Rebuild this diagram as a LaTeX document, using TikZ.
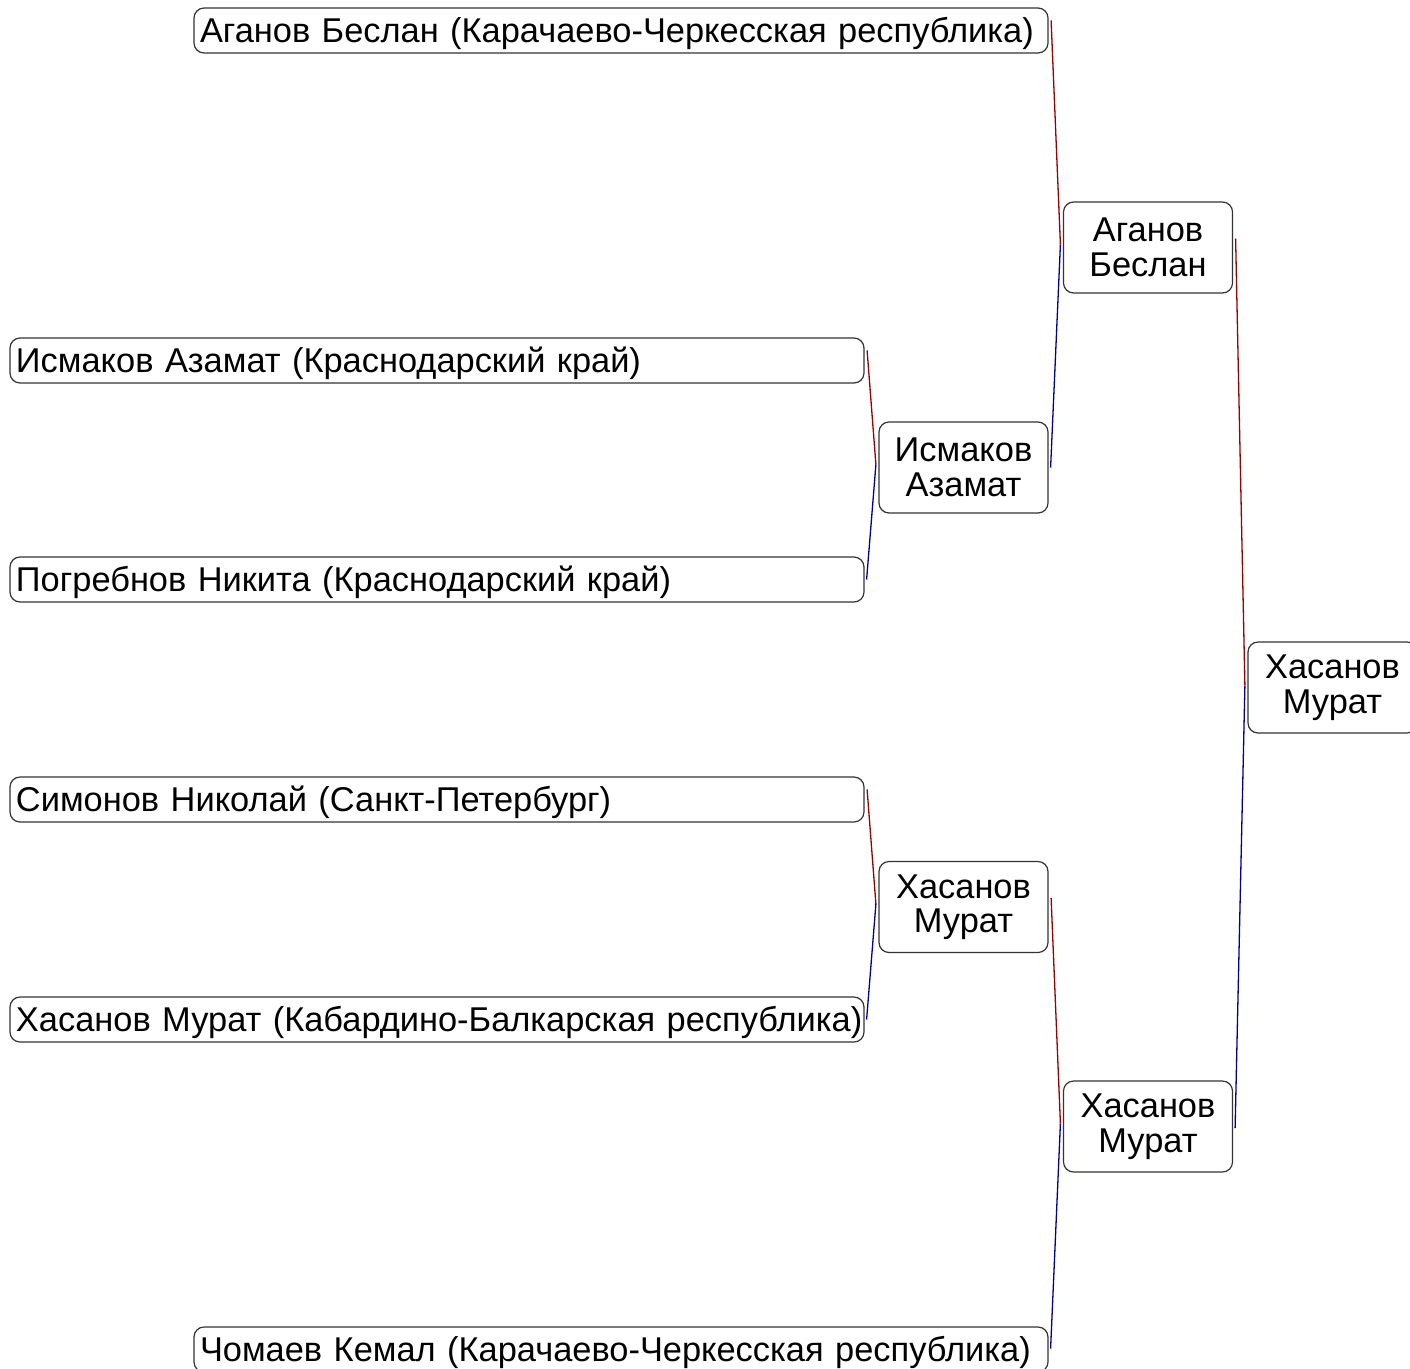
\documentclass[tikz,border=0pt]{standalone}
\usepackage{fontspec}
\setmainfont{Liberation Sans}
\usetikzlibrary{calc}
\definecolor{winred}{RGB}{153,0,0}
\definecolor{losblue}{RGB}{0,0,153}
\begin{document}
\begin{tikzpicture}[x=1pt,y=-1pt,
  box/.style={draw=black!80, line width=1.2pt, rounded corners=10pt, fill=white,
    font=\fontsize{34.4pt}{34.5pt}\selectfont, inner sep=0pt},
  entrant/.style={box, minimum width=854pt, minimum height=45pt, text width=842pt,
    text height=30pt, text depth=7pt, align=left},
  fighter/.style={box, minimum width=169pt, minimum height=91pt, align=center},
  win/.style={draw=winred, line width=1.3pt},
  lose/.style={draw=losblue, line width=1.3pt}]
\useasboundingbox (0,0) rectangle (1410,1368);
\clip (0,0) rectangle (1410,1368);
% entrants
\node[entrant] (L1) at (621,30.5) {\mbox{Аганов Беслан (Карачаево-Черкесская республика)}};
\node[entrant] (L2) at (437,360.5) {\mbox{Исмаков Азамат (Краснодарский край)}};
\node[entrant] (L3) at (437,579.5) {\mbox{Погребнов Никита (Краснодарский край)}};
\node[entrant] (L4) at (437,799.5) {\mbox{Симонов Николай (Санкт-Петербург)}};
\node[entrant] (L5) at (437,1019.5) {\mbox{Хасанов Мурат (Кабардино-Балкарская республика)}};
\node[entrant] (L6) at (621,1349.5) {\mbox{Чомаев Кемал (Карачаево-Черкесская республика)}};
% rounds
\node[fighter] (M1) at (963.5,467.5) {Исмаков\\Азамат};
\node[fighter] (M2) at (963.5,907) {Хасанов\\Мурат};
\node[fighter] (R1) at (1148,247.5) {Аганов\\Беслан};
\node[fighter] (R2) at (1148,1126.5) {Хасанов\\Мурат};
\node[fighter] (F) at (1332.5,687.5) {Хасанов\\Мурат};
% connectors
\draw[win]  ($(L1.east)+(2.5,-10)$) -- ($(R1.west)+(-2.5,-3)$);
\draw[lose] ($(M1.east)+(2,0)$) -- ($(R1.west)+(-2.5,-3)$);
\draw[win]  ($(L2.east)+(2.5,-10)$) -- ($(M1.west)+(-2.5,-3)$);
\draw[lose] ($(L3.east)+(2,0)$) -- ($(M1.west)+(-2.5,-3)$);
\draw[win]  ($(L4.east)+(2.5,-10)$) -- ($(M2.west)+(-2.5,-3)$);
\draw[lose] ($(L5.east)+(2,0)$) -- ($(M2.west)+(-2.5,-3)$);
\draw[win]  ($(M2.east)+(2.5,-9)$) -- ($(R2.west)+(-2.5,-3)$);
\draw[lose] ($(L6.east)+(2,-1)$) -- ($(R2.west)+(-2.5,-3)$);
\draw[win]  ($(R1.east)+(2.5,-9)$) -- ($(F.west)+(-2.5,-2)$);
\draw[lose] ($(R2.east)+(2,1.5)$) -- ($(F.west)+(-2.5,-2)$);
\end{tikzpicture}
\end{document}
